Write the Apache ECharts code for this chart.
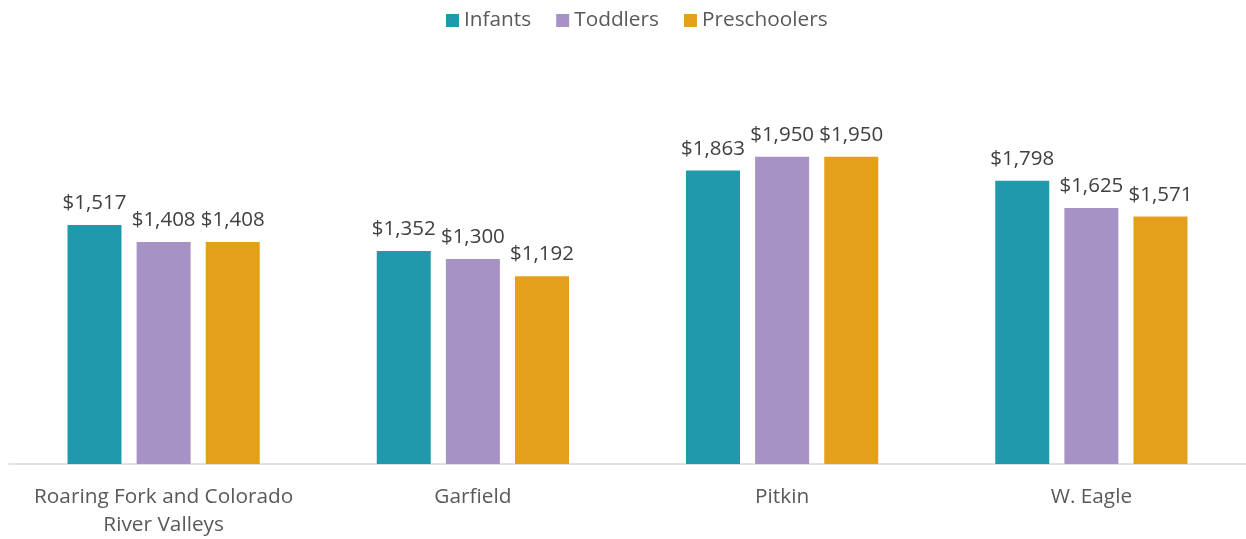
<!DOCTYPE html>
<html>
<head>
<meta charset="utf-8">
<script src="https://cdn.jsdelivr.net/npm/echarts@6/dist/echarts.min.js"></script>
<style>
  html, body { margin: 0; padding: 0; background: #fff; }
  #chart { width: 1246px; height: 539px; }
</style>
</head>
<body>
<div id="chart"></div>
<script>
// Monthly child care cost by region and age group
const regions = ['Roaring Fork and Colorado\nRiver Valleys', 'Garfield', 'Pitkin', 'W. Eagle'];
const infants = [1517, 1352, 1863, 1798];
const toddlers = [1408, 1300, 1950, 1625];
const preschoolers = [1408, 1192, 1950, 1571];

const seriesNames = ['Infants', 'Toddlers', 'Preschoolers'];
const seriesColors = ['#2199AC', '#A692C4', '#E4A01B'];
const seriesData = [infants, toddlers, preschoolers];

const font = '"Open Sans", "Noto Sans", sans-serif';

const money = v => '$' + v.toLocaleString('en-US');

const chart = echarts.init(document.getElementById('chart'), null, { renderer: 'canvas' });
chart.setOption({
  animation: false,
  textStyle: { fontFamily: font },
  legend: {
    top: 5,
    left: 441,
    itemWidth: 13,
    itemHeight: 13,
    itemGap: 25,
    icon: 'rect',
    textStyle: { fontSize: 20.8, color: '#595959', fontFamily: font },
    data: seriesNames
  },
  grid: { left: 9, right: -2, top: 70, bottom: 71, containLabel: false },
  xAxis: {
    type: 'category',
    data: regions,
    axisLine: { lineStyle: { color: '#D9D9D9', width: 1.5 } },
    axisTick: { show: false },
    axisLabel: {
      interval: 0,
      fontSize: 20.8,
      color: '#595959',
      margin: 19,
      lineHeight: 28,
      fontFamily: font
    }
  },
  yAxis: {
    type: 'value',
    min: 0,
    max: 2500,
    show: false,
    splitLine: { show: false }
  },
  series: seriesNames.map((name, i) => ({
    name,
    type: 'bar',
    data: seriesData[i],
    barWidth: 54,
    barGap: '28%',
    itemStyle: { color: seriesColors[i] },
    label: {
      show: true,
      position: 'top',
      distance: 11,
      fontSize: 20.5,
      color: '#404040',
      fontFamily: font,
      formatter: p => money(p.value)
    }
  }))
});
</script>
</body>
</html>
